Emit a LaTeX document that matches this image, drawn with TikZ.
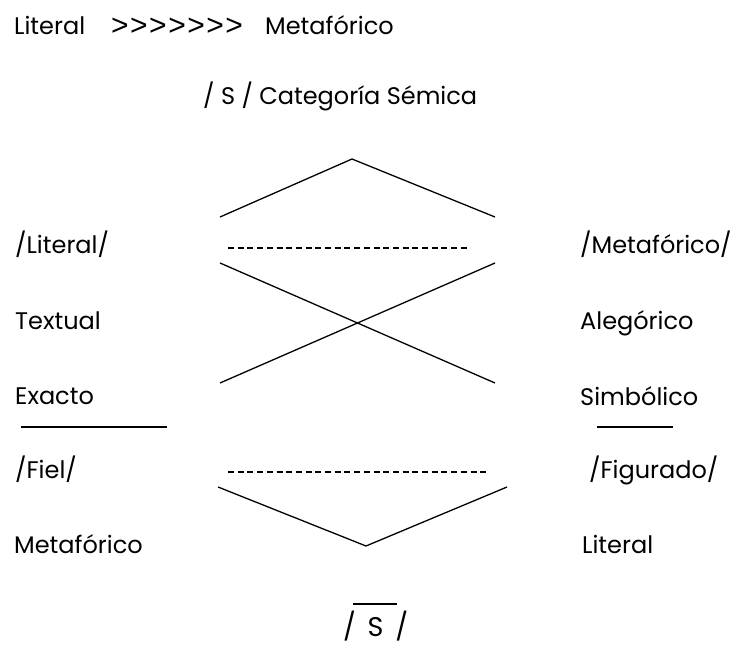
\documentclass[tikz,border=0pt]{standalone}
\usepackage{fontspec}
\setmainfont{Poppins}
\newfontfamily\chevfont{Liberation Sans}
\begin{document}
\begin{tikzpicture}[x=1pt,y=-1pt,
    word/.style={anchor=base west,inner sep=0pt,font=\fontsize{24}{28}\selectfont},
    stroke/.style={line width=1.3pt},
    dashrow/.style={line width=1.6pt,dash pattern=on 6pt off 3.7pt}]
  \useasboundingbox (0,0) rectangle (742,647);
  % heading
  \node[word] (lit) at (14,35) {Literal};
  \node[word,font=\chevfont\fontsize{30}{30}\selectfont] (chev) at (111,36)
    {>\kern1.5pt>\kern1.5pt>\kern1.5pt>\kern1.5pt>\kern1.5pt>\kern1.5pt>};
  \node[word] (met) at (265,35) {Metafórico};
  \node[word] (cat) at (203,105) {/ S / Categoría Sémica};
  % left column
  \node[word] (l1) at (15,254) {/Literal/};
  \node[word] (l2) at (15,329) {Textual};
  \node[word] (l3) at (15,404) {Exacto};
  \node[word] (l4) at (15,478) {/Fiel/};
  \node[word] (l5) at (14,553) {Metafórico};
  % right column
  \node[word] (r1) at (580,254) {/Metafórico/};
  \node[word] (r2) at (580,330) {Alegórico};
  \node[word] (r3) at (580,405) {Simbólico};
  \node[word] (r4) at (589,478) {/Figurado/};
  \node[word] (r5) at (582,553) {Literal};
  \node[word,font=\fontsize{27}{30}\selectfont] (neg) at (343,636) {/\ \,S\ \,/};
  % square
  \coordinate (ta) at (220,217);
  \coordinate (tb) at (495,217);
  \coordinate (tc) at (220,263);
  \coordinate (td) at (495,263);
  \coordinate (te) at (220,383);
  \coordinate (tf) at (495,383);
  \draw[stroke] (ta) -- (352,159) -- (tb);
  \draw[stroke] (tc) -- (tf);
  \draw[stroke] (te) -- (td);
  \draw[dashrow] (228,248) -- (470,248);
  \draw[dashrow] (228,472) -- (489,472);
  \draw[stroke] (218,487) -- (366,546) -- (507,487);
  % overlines
  \draw[stroke] (21,427) -- (167,427);
  \draw[stroke] (597,427) -- (673,427);
  \draw[stroke] (353,604) -- (397,604);
\end{tikzpicture}
\end{document}
